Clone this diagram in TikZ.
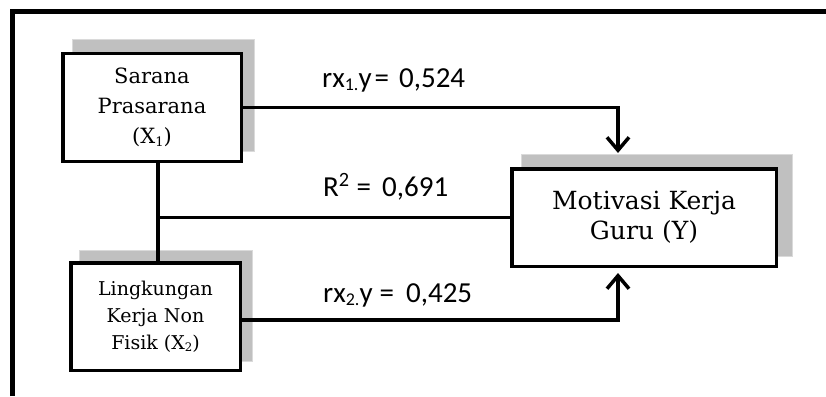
\documentclass[tikz,border=0pt]{standalone}
\usepackage{fontspec}
\usepackage{graphicx}
\setmainfont{DejaVu Serif}
\newfontfamily\lblfont{Carlito}
\usetikzlibrary{arrows.meta,backgrounds}
\definecolor{shadowgray}{HTML}{C0C0C0}
\definecolor{shadowline}{HTML}{DADADA}
\newcommand\mysub[1]{\raisebox{-0.25ex}{\scalebox{0.62}{#1}}}
\begin{document}
\begin{tikzpicture}[x=1pt,y=-1pt,
  box/.style={draw, line width=3.5pt, fill=white, align=center, inner sep=0pt},
  shadebox/.style={fill=shadowgray, draw=shadowline, line width=1pt},
  conn/.style={line width=3.5pt},
  arr/.style={conn, -{Straight Barb[length=13pt,width=22pt]}},
  lab/.style={font=\lblfont\fontsize{29}{33}\selectfont, anchor=base west, inner sep=0pt}]
\useasboundingbox (0,0) rectangle (826,396);
\draw[line width=5pt] (12.5,396) -- (12.5,12) -- (826,12);

\node[box, minimum width=178.5pt, minimum height=107.5pt, font=\fontsize{21}{30}\selectfont] (x1) at (152,107.5) {Sarana\\Prasarana\\(X\mysub{1})};
\node[box, minimum width=169.5pt, minimum height=107.5pt, font=\fontsize{19}{27}\selectfont] (x2) at (155.5,316.5) {Lingkungan\\Kerja Non\\Fisik (X\mysub{2})};
\node[box, minimum width=264.5pt, minimum height=97.5pt, font=\fontsize{25}{30}\selectfont] (y) at (644,217.5) {Motivasi Kerja\\Guru (Y)};

\begin{scope}[on background layer]
\path[shadebox] ([shift={(11,-12)}]x1.south west) rectangle ([shift={(11,-12)}]x1.north east);
\path[shadebox] ([shift={(10,-11)}]x2.south west) rectangle ([shift={(10,-11)}]x2.north east);
\path[shadebox] ([shift={(11,-12)}]y.south west) rectangle ([shift={(14,-13)}]y.north east);
\end{scope}

\coordinate (k1) at (618,107.5);
\coordinate (j) at (158,217.5);
\coordinate (k3) at (618,320);
\draw[arr, shorten >=14pt] (x1.east) -- (k1) -- (k1 |- y.north);
\draw[conn] (j |- x1.south) -- (j |- x2.north);
\draw[conn] (j) -- (j -| y.west);
\draw[arr, shorten >=5pt] (x2.east |- k3) -- (k3) -- (k3 |- y.south);

\node[lab] (l1) at (322,87) {rx\mysub{1.}y\hspace{3pt}=\hspace{10pt}0,524};
\node[lab] (l2) at (323,196) {R\textsuperscript{2}\hspace{7pt}=\hspace{11pt}0,691};
\node[lab] (l3) at (323,302) {rx\mysub{2.}y\hspace{7pt}=\hspace{12pt}0,425};
\end{tikzpicture}
\end{document}
